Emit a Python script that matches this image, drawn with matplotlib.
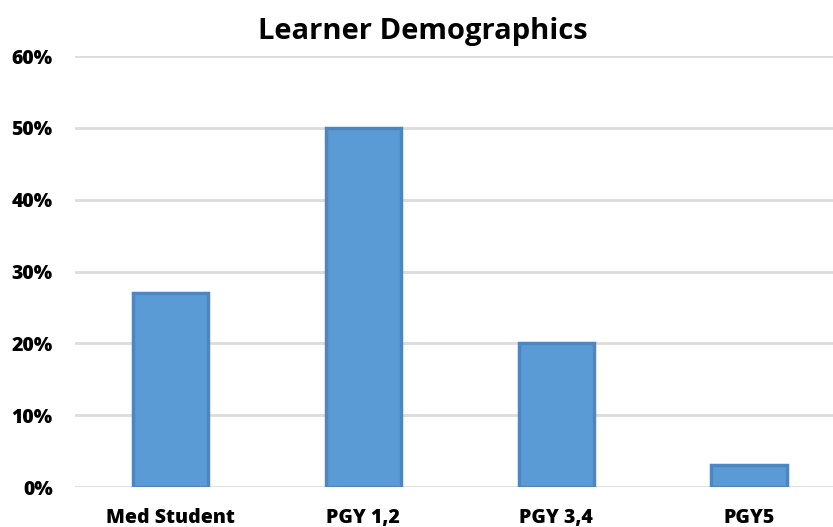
import matplotlib.pyplot as plt
from matplotlib.ticker import FuncFormatter

# learner groups and their share of learners
categories = ['Med Student', 'PGY 1,2', 'PGY 3,4', 'PGY5']
shares = [27, 50, 20, 3]
yticks = [0, 10, 20, 30, 40, 50, 60]

plt.rcParams['font.family'] = ['Open Sans', 'DejaVu Sans']

fig = plt.figure(figsize=(8.33, 5.27), dpi=100)
ax = fig.add_axes([0.090, 0.0759, 0.910, 0.8178])

x = range(len(categories))
ax.bar(x, shares, width=0.39, color='#5B9BD5', edgecolor='#4E86C0',
       linewidth=2.5, zorder=3)

ax.set_ylim(0, 60)
ax.set_xlim(-0.495, 3.435)
ax.set_yticks(yticks)
ax.yaxis.set_major_formatter(FuncFormatter(lambda v, p: '%d%%' % v))
ax.set_xticks(list(x))
ax.set_xticklabels(categories)

ax.grid(axis='y', color='#DCDCDC', linewidth=2, zorder=0)
for s in ax.spines.values():
    s.set_visible(False)
ax.tick_params(length=0)
ax.tick_params(axis='y', pad=16)
ax.tick_params(axis='x', pad=15)
for lbl in ax.get_yticklabels() + ax.get_xticklabels():
    lbl.set_fontweight('heavy')
    lbl.set_fontsize(14)

fig.text(0.508, 0.94, 'Learner Demographics', ha='center', va='center',
         fontsize=21, fontweight='bold')

fig.savefig('out.png', dpi=100)
